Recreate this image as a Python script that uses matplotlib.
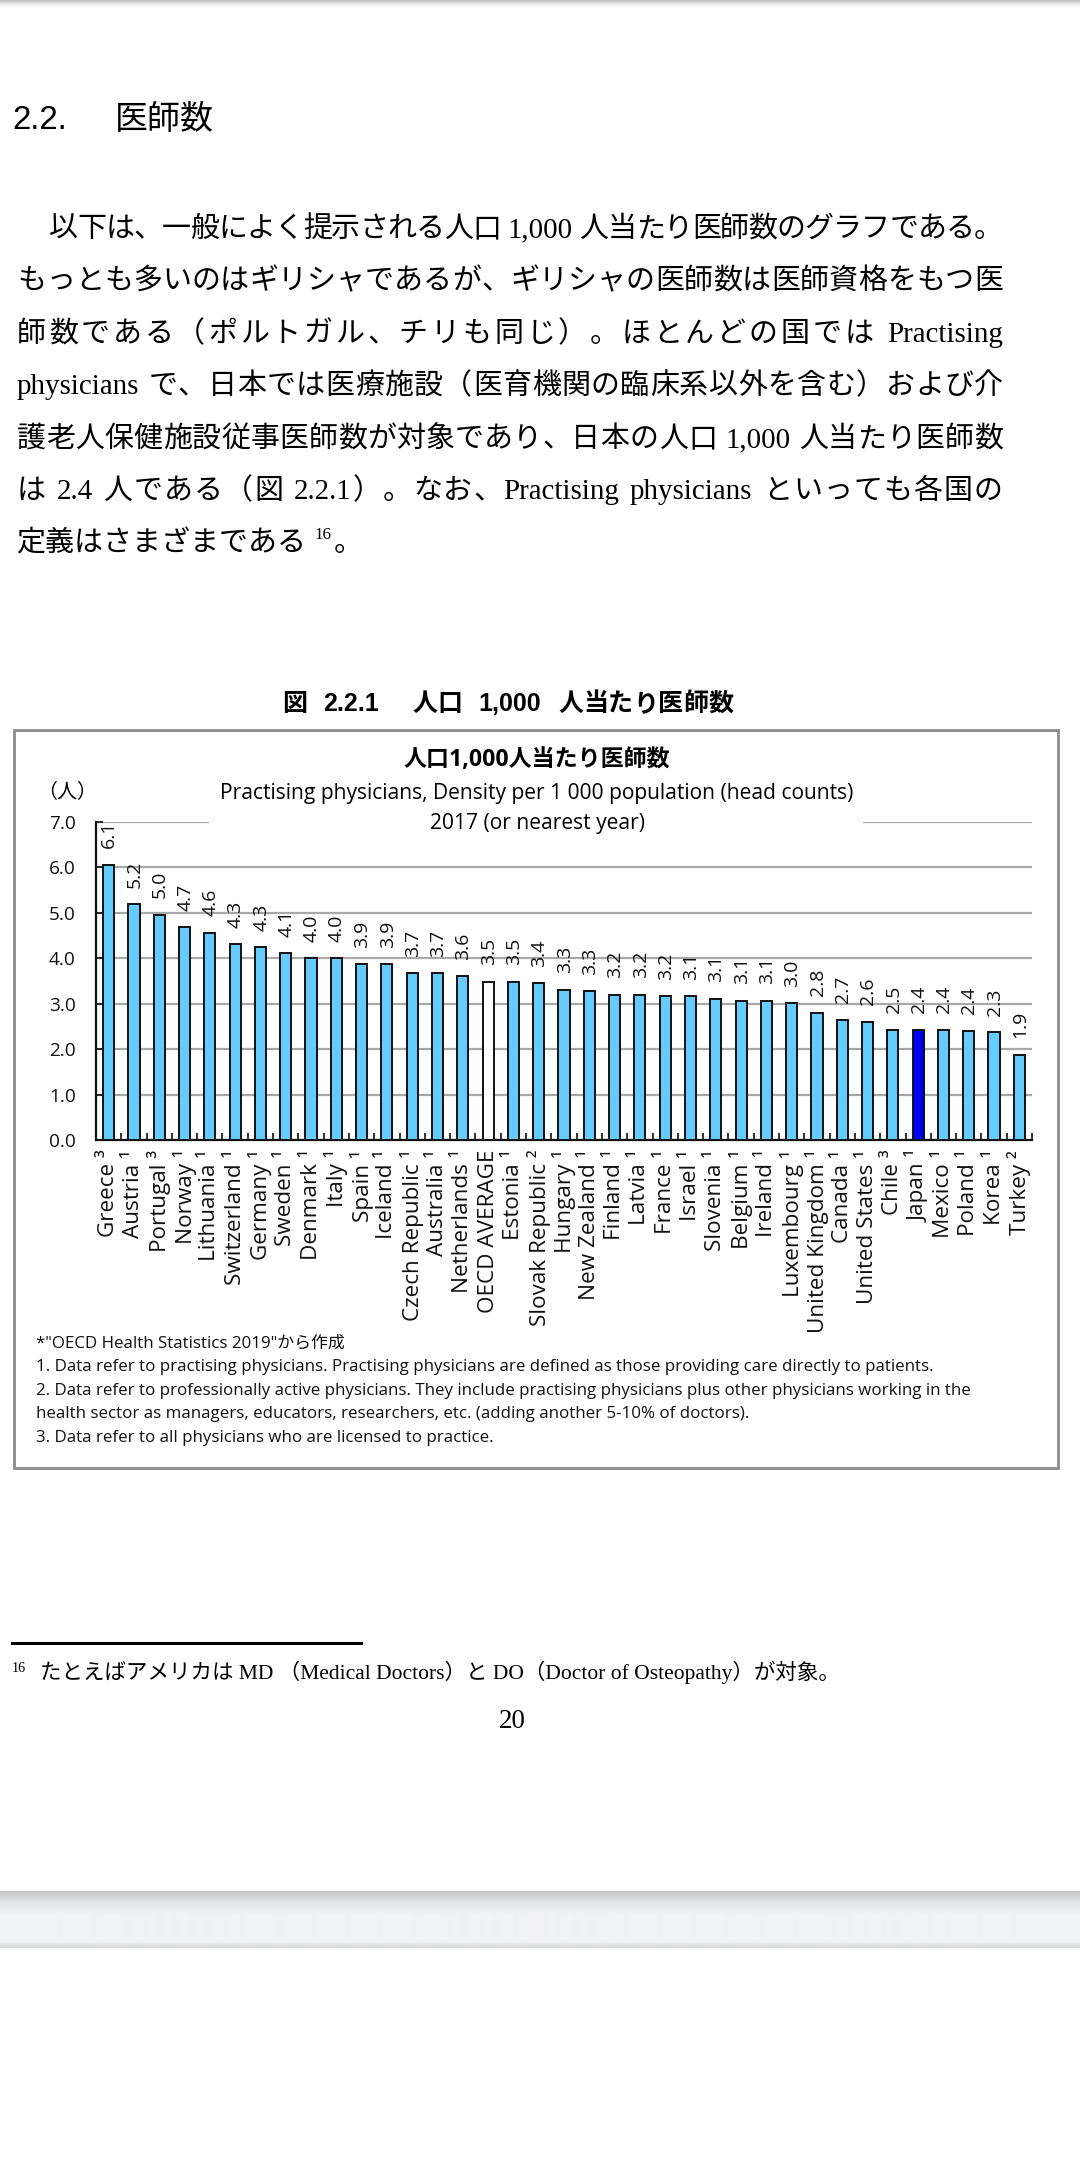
import re
import numpy as np
import matplotlib
matplotlib.use("Agg")
import matplotlib.pyplot as plt
from matplotlib.patches import Rectangle

# ---------------- data ----------------
countries = ["Greece", "Austria", "Portugal", "Norway", "Lithuania", "Switzerland",
             "Germany", "Sweden", "Denmark", "Italy", "Spain", "Iceland",
             "Czech Republic", "Australia", "Netherlands", "OECD AVERAGE", "Estonia",
             "Slovak Republic", "Hungary", "New Zealand", "Finland", "Latvia", "France",
             "Israel", "Slovenia", "Belgium", "Ireland", "Luxembourg", "United Kingdom",
             "Canada", "United States", "Chile", "Japan", "Mexico", "Poland", "Korea",
             "Turkey"]
notes = ["3", "1", "3", "1", "1", "1", "1", "1", "1", "1", "1", "1", "1", "1", "1", "",
         "1", "2", "1", "1", "1", "1", "1", "1", "1", "1", "1", "1", "1", "1", "1", "3",
         "1", "1", "1", "1", "2"]
values = [6.06, 5.19, 4.95, 4.68, 4.56, 4.31, 4.24, 4.11, 4.00, 4.00, 3.87, 3.87,
          3.67, 3.67, 3.60, 3.48, 3.48, 3.45, 3.31, 3.27, 3.20, 3.20, 3.16, 3.16,
          3.11, 3.07, 3.07, 3.01, 2.80, 2.64, 2.60, 2.43, 2.43, 2.43, 2.40, 2.37, 1.88]
value_labels = ["6.1", "5.2", "5.0", "4.7", "4.6", "4.3", "4.3", "4.1", "4.0", "4.0",
                "3.9", "3.9", "3.7", "3.7", "3.6", "3.5", "3.5", "3.4", "3.3", "3.3",
                "3.2", "3.2", "3.2", "3.1", "3.1", "3.1", "3.1", "3.0", "2.8", "2.7",
                "2.6", "2.5", "2.4", "2.4", "2.4", "2.3", "1.9"]
y_ticks = [0, 1, 2, 3, 4, 5, 6, 7]

heading_num = "2.2."
heading_txt = "医師数"
paragraph = [
    "以下は、一般によく提示される人口 1,000 人当たり医師数のグラフである。",
    "もっとも多いのはギリシャであるが、ギリシャの医師数は医師資格をもつ医",
    "師数である（ポルトガル、チリも同じ）。ほとんどの国では Practising",
    "physicians で、日本では医療施設（医育機関の臨床系以外を含む）および介",
    "護老人保健施設従事医師数が対象であり、日本の人口 1,000 人当たり医師数",
    "は 2.4 人である（図 2.2.1）。なお、Practising physicians といっても各国の",
]
para_last = "定義はさまざまである"
caption = "図 2.2.1　人口 1,000 人当たり医師数"
chart_title = "人口1,000人当たり医師数"
chart_sub1 = "Practising physicians, Density per 1 000 population (head counts)"
chart_sub2 = "2017 (or nearest year)"
unit_label = "（人）"
source_notes = [
    "*\"OECD Health Statistics 2019\"から作成",
    "1. Data refer to practising physicians. Practising physicians are defined as those providing care directly to patients.",
    "2. Data refer to professionally active physicians. They include practising physicians plus other physicians working in the",
    "health sector as managers, educators, researchers, etc. (adding another 5-10% of doctors).",
    "3. Data refer to all physicians who are licensed to practice.",
]
footnote = "たとえばアメリカは MD （Medical Doctors）と DO（Doctor of Osteopathy）が対象。"
page_no = "20"

# ---------------- setup ----------------
W, H = 1080, 2160
plt.rcParams["font.family"] = ["Open Sans", "Noto Sans CJK JP", "DejaVu Sans"]
fig = plt.figure(figsize=(W / 100, H / 100), dpi=100)
fig.patch.set_facecolor("white")
renderer = fig.canvas.get_renderer()

def X(x):
    return x / W

def Y(y):
    return 1 - y / H

def PT(px):
    return px * 0.72

SERIF_JP = ["Liberation Serif", "Noto Sans CJK JP"]
SANS_JP = ["Liberation Sans", "Noto Sans CJK JP"]
CHART_F = ["Open Sans", "Noto Sans CJK JP"]

# ---------------- page chrome ----------------
def band(y0, y1, stops):
    n = int(round(y1 - y0))
    pos = np.linspace(0, 1, n)
    sp = [s[0] for s in stops]
    cols = np.array([[int(s[1][i:i + 2], 16) / 255 for i in (1, 3, 5)] for s in stops])
    img = np.stack([np.interp(pos, sp, cols[:, k]) for k in range(3)], axis=-1)[:, None, :]
    a = fig.add_axes([0, Y(y1), 1, (y1 - y0) / H])
    a.imshow(img, aspect="auto", interpolation="bilinear")
    a.set_axis_off()

band(0, 8, [(0, "#c2c2c2"), (0.4, "#e4e4e4"), (1, "#ffffff")])
band(1891, 1948, [(0, "#c4c4c6"), (0.2, "#e3e4e6"), (0.4, "#f1f2f4"),
                  (0.9, "#f1f2f4"), (1, "#d8d9db")])

# ---------------- heading ----------------
fig.text(X(12), Y(129), heading_num, fontsize=PT(33), family=SANS_JP, va="baseline")
fig.text(X(115), Y(129), heading_txt, fontsize=PT(33), family=SANS_JP, va="baseline")

# ---------------- justified text helper ----------------
def justified(line, yb, x0, x1, size_px, family, weight="normal", space_em=0.28,
              spaces_only=False):
    toks = re.findall(r"[A-Za-z0-9.,%\-]+|[ 　]|.", line)
    items = []
    for t in toks:
        if t in (" ", "　"):
            items.append((None, (space_em if t == " " else 1.0) * size_px))
        else:
            tx = fig.text(0, Y(yb), t, fontsize=PT(size_px), family=family,
                          fontweight=weight, va="baseline", ha="left")
            items.append((tx, tx.get_window_extent(renderer).width))
    total = sum(w for _, w in items)
    slack = x1 - x0 - total
    if spaces_only:
        sp_total = sum(w for tx, w in items if tx is None)
        x = x0
        for tx, w in items:
            if tx is not None:
                tx.set_x(X(x))
                x += w
            else:
                x += w + slack * w / sp_total
        return
    extra = slack / max(len(items) - 1, 1)
    x = x0
    for tx, w in items:
        if tx is not None:
            tx.set_x(X(x))
        x += w + extra

# ---------------- paragraph ----------------
bases = [237, 289, 342, 394, 447, 499]
for i, (ln, yb) in enumerate(zip(paragraph, bases)):
    justified(ln, yb, 49 if i == 0 else 17, 1003, 29, SERIF_JP)

t7 = fig.text(X(17), Y(551), para_last, fontsize=PT(29), family=SERIF_JP, va="baseline")
w7 = t7.get_window_extent(renderer).width
fig.text(X(17 + w7 + 8), Y(539), "16", fontsize=PT(17), family=SERIF_JP, va="baseline")
fig.text(X(17 + w7 + 27), Y(551), "。", fontsize=PT(29), family=SERIF_JP, va="baseline")

# ---------------- caption ----------------
justified(caption, 711, 282, 733, 25, SANS_JP, weight="bold", space_em=0.5,
          spaces_only=True)

# ---------------- chart box ----------------
fig.patches.append(Rectangle((X(13.5), Y(1468)), X(1058) - X(13.5), (1468 - 730) / H,
                             transform=fig.transFigure, fill=False, ec="#8c8c8c", lw=2,
                             zorder=1))

ax = fig.add_axes([X(96), Y(1140), X(1032) - X(96), (1140 - 822) / H])
xpos = np.arange(len(countries))
colors = ["#0000ff" if c == "Japan" else ("#ffffff" if c == "OECD AVERAGE" else "#66ccff")
          for c in countries]
ax.bar(xpos, values, width=0.44, color=colors, edgecolor="#111111", linewidth=1.4, zorder=3)
for xi, v, lab in zip(xpos, values, value_labels):
    ax.annotate(lab, (xi, v), xytext=(0.5, 12), textcoords="offset points", rotation=90,
                ha="center", va="bottom", fontsize=PT(19.5), family=CHART_F, color="#111111")

sup = {"1": "¹", "2": "²", "3": "³", "": ""}
xlabels = [c + (" " + sup[n] if n else "") for c, n in zip(countries, notes)]
ax.set_xticks(xpos)
ax.set_xticklabels(xlabels, rotation=90, fontsize=PT(22.5), family=CHART_F, color="#111111")
ax.set_xticks(np.arange(-0.5, len(countries), 1), minor=True)
ax.tick_params(axis="x", which="major", length=0, pad=7)
ax.tick_params(axis="x", which="minor", direction="in", length=5, width=1.2, color="#111111")
ax.set_xlim(-0.5, len(countries) - 0.5)
ax.set_ylim(0, 7)
ax.set_yticks(y_ticks)
ax.set_yticklabels([f"{t:.1f}" for t in y_ticks], fontsize=PT(19), family=CHART_F,
                   color="#111111")
ax.tick_params(axis="y", direction="in", length=5, width=1.2, color="#111111", pad=14.5)
ax.yaxis.grid(True, color="#a8a8a8", lw=1.6, zorder=0)
ax.set_axisbelow(True)
for s in ("top", "right"):
    ax.spines[s].set_visible(False)
for s in ("left", "bottom"):
    ax.spines[s].set_linewidth(1.6)
    ax.spines[s].set_color("#111111")

# white block behind chart titles (breaks the 7.0 gridline)
fig.patches.append(Rectangle((X(209), Y(834)), X(863) - X(209), 22 / H,
                             transform=fig.transFigure, fc="white", ec="none", zorder=2))
fig.text(X(537), Y(760), chart_title, fontsize=PT(23), family=CHART_F, fontweight="bold",
         ha="center", va="center", zorder=5)
fig.text(X(537), Y(793), chart_sub1, fontsize=PT(21), family=CHART_F,
         ha="center", va="center", zorder=5)
fig.text(X(537), Y(824), chart_sub2, fontsize=PT(21), family=CHART_F,
         ha="center", va="center", zorder=5)
fig.text(X(37), Y(793), unit_label, fontsize=PT(20), family=CHART_F, ha="left", va="center")

for i, ln in enumerate(source_notes):
    fig.text(X(36), Y(1344 + i * 23.4), ln, fontsize=PT(16.9), family=CHART_F,
             ha="left", va="center", color="#111111")

# ---------------- footnote ----------------
fig.add_artist(plt.Line2D([X(12), X(361)], [Y(1643), Y(1643)], color="black", lw=2.2))
fig.text(X(12), Y(1672), "16", fontsize=PT(14), family=SERIF_JP, va="baseline")
fig.text(X(40), Y(1679), footnote, fontsize=PT(21.5), family=SERIF_JP, va="baseline")
fig.text(X(512), Y(1728), page_no, fontsize=PT(27), family=SERIF_JP, ha="center",
         va="baseline")

fig.savefig("out.png", dpi=100, facecolor="white")
